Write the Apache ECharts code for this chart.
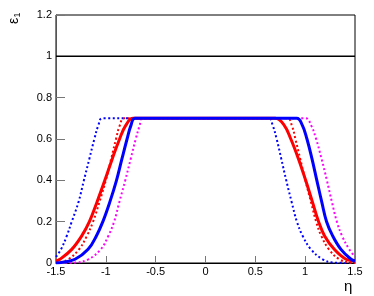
<!DOCTYPE html>
<html>
<head>
<meta charset="utf-8">
<script src="https://cdn.jsdelivr.net/npm/echarts@6/dist/echarts.min.js"></script>
<style>
  html, body { margin: 0; padding: 0; background: #fff; }
  #chart { width: 374px; height: 296px; }
</style>
</head>
<body>
<div id="chart"></div>
<script>
// eta ticks and efficiency ticks
const xTicks = [-1.5, -1, -0.5, 0, 0.5, 1, 1.5];
const yTicks = [0, 0.2, 0.4, 0.6, 0.8, 1, 1.2];

// reference line at 1
const refLine = [[-1.5, 1], [1.5, 1]];

// curves, [eta, eps]
const redSolid = [
  [-1.5, 0.01], [-1.46, 0.018], [-1.342, 0.066], [-1.242, 0.131], [-1.165, 0.2],
  [-1.091, 0.292], [-1.01, 0.4], [-0.935, 0.505], [-0.862, 0.6], [-0.8, 0.666],
  [-0.725, 0.7], [0.7, 0.7], [0.79, 0.666], [0.856, 0.6], [0.932, 0.505],
  [1.005, 0.4], [1.075, 0.292], [1.135, 0.2], [1.195, 0.131], [1.292, 0.066],
  [1.41, 0.018], [1.5, 0.01]
];
const redDotted = [
  [-1.5, 0], [-1.46, 0.003], [-1.376, 0.018], [-1.269, 0.066], [-1.19, 0.131], [-1.128, 0.2],
  [-1.066, 0.292], [-1.0, 0.4], [-0.946, 0.505], [-0.898, 0.6], [-0.86, 0.666],
  [-0.815, 0.7], [0.822, 0.7], [0.866, 0.666], [0.902, 0.6], [0.95, 0.505],
  [1.002, 0.4], [1.06, 0.292], [1.11, 0.2], [1.162, 0.131], [1.238, 0.066],
  [1.342, 0.018], [1.45, 0.002], [1.5, 0]
];
const blueSolid = [
  [-1.5, 0], [-1.44, 0.003], [-1.309, 0.018], [-1.178, 0.066], [-1.095, 0.131], [-1.03, 0.2],
  [-0.962, 0.292], [-0.893, 0.4], [-0.838, 0.505], [-0.787, 0.6], [-0.748, 0.666],
  [-0.707, 0.7], [0.915, 0.7], [0.972, 0.666], [1.018, 0.6], [1.068, 0.505],
  [1.117, 0.4], [1.168, 0.292], [1.215, 0.2], [1.276, 0.131], [1.359, 0.066],
  [1.46, 0.018], [1.5, 0.01]
];
const blueDotted = [
  [-1.5, 0.03], [-1.45, 0.066], [-1.392, 0.131], [-1.342, 0.2], [-1.276, 0.292],
  [-1.22, 0.4], [-1.165, 0.505], [-1.115, 0.6], [-1.075, 0.666], [-1.035, 0.7],
  [0.634, 0.7], [0.674, 0.666], [0.714, 0.6], [0.76, 0.505], [0.81, 0.4],
  [0.866, 0.292], [0.917, 0.2], [0.975, 0.131], [1.058, 0.066], [1.175, 0.018],
  [1.28, 0.002], [1.5, 0]
];
const magentaDotted = [
  [-1.5, 0], [-1.31, 0.002], [-1.175, 0.018], [-1.051, 0.066], [-0.975, 0.131], [-0.917, 0.2],
  [-0.866, 0.292], [-0.805, 0.4], [-0.75, 0.505], [-0.7, 0.6], [-0.66, 0.666],
  [-0.634, 0.7], [1.005, 0.7], [1.06, 0.666], [1.11, 0.6], [1.164, 0.505],
  [1.218, 0.4], [1.27, 0.292], [1.318, 0.2], [1.37, 0.131], [1.442, 0.066],
  [1.5, 0.03]
];

const font = 'Liberation Sans, Arial, sans-serif';

const chart = echarts.init(document.getElementById('chart'));

function curve(data, color, width, dotted) {
  return {
    type: 'line',
    data: data,
    showSymbol: false,
    smooth: 0.4,
    animation: false,
    lineStyle: {
      color: color,
      width: width,
      type: dotted ? [2, 2.5] : 'solid',
      cap: 'butt'
    }
  };
}

chart.setOption({
  animation: false,
  grid: {
    left: 56, right: 19, top: 15, bottom: 33,
    show: true, borderColor: '#000', borderWidth: 1, backgroundColor: 'transparent'
  },
  xAxis: {
    type: 'value',
    min: xTicks[0], max: xTicks[xTicks.length - 1], interval: 0.5,
    axisLine: { onZero: false, lineStyle: { color: '#000', width: 1 } },
    axisTick: { inside: true, length: 7, lineStyle: { color: '#777' } },
    splitLine: { show: false },
    axisLabel: { color: '#000', fontFamily: font, fontSize: 11, margin: 3 }
  },
  yAxis: {
    type: 'value',
    min: yTicks[0], max: yTicks[yTicks.length - 1], interval: 0.2,
    axisLine: { show: true, onZero: false, lineStyle: { color: '#555', width: 1 } },
    axisTick: { show: true, inside: true, length: 9, lineStyle: { color: '#777' } },
    splitLine: { show: false },
    axisLabel: {
      color: '#000', fontFamily: font, fontSize: 11, margin: 4,
      formatter: v => String(Math.round(v * 10) / 10)
    }
  },
  graphic: [
    {
      type: 'text', left: 344, top: 279,
      style: { text: 'η', font: '15px ' + font, fill: '#000' }
    },
    {
      // y title, rotated to read upward
      type: 'group', x: 14, y: 21, rotation: Math.PI / 2,
      children: [
        {
          type: 'text', x: 0, y: 0,
          style: { text: 'ε', font: '14px ' + font, fill: '#000', align: 'center', verticalAlign: 'middle' }
        },
        {
          type: 'text', x: 6, y: 4,
          style: { text: '1', font: '9px ' + font, fill: '#000', align: 'center', verticalAlign: 'middle' }
        }
      ]
    }
  ],
  series: [
    curve(refLine, '#000', 1.5, false),
    curve(magentaDotted, '#ff00ff', 2, true),
    curve(blueDotted, '#0000ff', 2, true),
    curve(redDotted, '#ff0000', 2, true),
    curve(redSolid, '#ff0000', 3, false),
    curve(blueSolid, '#0000ff', 3, false)
  ]
});
</script>
</body>
</html>
